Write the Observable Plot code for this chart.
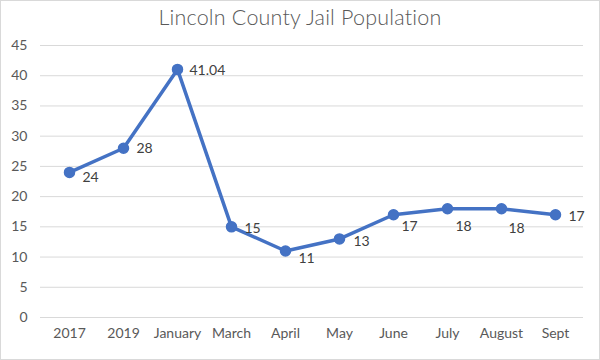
<!DOCTYPE html>
<html>
<head>
<meta charset="utf-8">
<script src="https://cdn.jsdelivr.net/npm/d3@7"></script>
<script src="https://cdn.jsdelivr.net/npm/@observablehq/plot@0.6"></script>
<style>
  html, body { margin: 0; padding: 0; background: #fff; }
  #chart { width: 600px; height: 360px; box-sizing: border-box; border: 1px solid #d9d9d9; background: #fff; font-family: Lato, "Open Sans", sans-serif; }
  #title { height: 33px; text-align: center; font-size: 21.5px; font-weight: 300; color: #595959; line-height: 33px; letter-spacing: 0.2px; }
  svg { display: block; }
</style>
</head>
<body>
<div id="chart"><div id="title">Lincoln County Jail Population</div></div>
<script>
const categories = ["2017", "2019", "January", "March", "April", "May", "June", "July", "August", "Sept"];
const population = [24, 28, 41.04, 15, 11, 13, 17, 18, 18, 17];
const yTicks = [0, 5, 10, 15, 20, 25, 30, 35, 40, 45];
// label placement offsets (style only)
const labelDx = [13, 13, 12, 13, 13, 14, 8, 8, 7, 13];
const labelDy = [5, 0, 1, 2, 8, 3, 12, 18, 20, 2];

const data = categories.map((c, i) => ({category: c, value: population[i]}));

const plot = Plot.plot({
  width: 598,
  height: 325,
  marginLeft: 39,
  marginRight: 16,
  marginTop: 11,
  marginBottom: 42,
  style: {fontFamily: "Lato, 'Open Sans', sans-serif", fontSize: "14px", color: "#595959", background: "#fff"},
  x: {type: "point", domain: categories, padding: 0.5, label: null},
  y: {domain: [0, 45], label: null},
  marks: [
    Plot.gridY(yTicks, {stroke: "#d9d9d9", strokeOpacity: 1, strokeWidth: 1}),
    Plot.axisY(yTicks, {tickSize: 0, tickPadding: 13, fontSize: 14, fill: "#595959", label: null}),
    Plot.axisX({tickSize: 0, tickPadding: 11, fontSize: 14, fill: "#595959", label: null}),
    Plot.line(data, {x: "category", y: "value", stroke: "#4472C4", strokeWidth: 3.5, strokeLinejoin: "round"}),
    Plot.dot(data, {x: "category", y: "value", r: 5, fill: "#4472C4", stroke: "#4472C4"}),
    ...data.map((d, i) => Plot.text([d], {x: "category", y: "value", text: d => String(d.value), textAnchor: "start", dx: labelDx[i], dy: labelDy[i], fill: "#404040", fontSize: 14}))
  ]
});
document.getElementById("chart").appendChild(plot);
</script>
</body>
</html>
